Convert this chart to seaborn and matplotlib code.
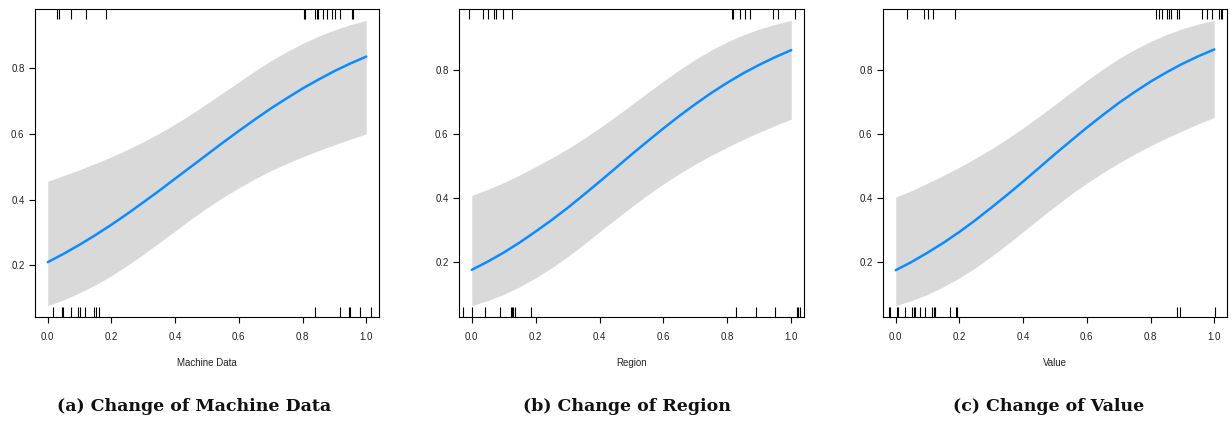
import matplotlib
matplotlib.use("Agg")
import matplotlib.pyplot as plt
import seaborn as sns
import pandas as pd

# ---------------- data ----------------
x_grid = [0.00, 0.05, 0.10, 0.15, 0.20, 0.25, 0.30, 0.35, 0.40, 0.45, 0.50,
          0.55, 0.60, 0.65, 0.70, 0.75, 0.80, 0.85, 0.90, 0.95, 1.00]

a_fit = [0.210, 0.2355, 0.263, 0.2926, 0.324, 0.3571, 0.392, 0.4272, 0.464, 0.5004, 0.537,
         0.5736, 0.609, 0.6436, 0.677, 0.708, 0.738, 0.7651, 0.791, 0.814, 0.835]
a_lo = [0.078, 0.0955, 0.117, 0.1411, 0.169, 0.2001, 0.234, 0.2692, 0.305, 0.341, 0.375,
        0.407, 0.436, 0.4631, 0.488, 0.5097, 0.530, 0.5492, 0.567, 0.5838, 0.600]
a_hi = [0.456, 0.4734, 0.491, 0.5102, 0.530, 0.5523, 0.576, 0.6016, 0.630, 0.6597, 0.692,
        0.725, 0.758, 0.791, 0.822, 0.8498, 0.875, 0.897, 0.916, 0.9317, 0.945]

b_fit = [0.175, 0.2007, 0.229, 0.2606, 0.295, 0.3308, 0.369, 0.4096, 0.451, 0.4933, 0.536,
         0.5773, 0.618, 0.6571, 0.694, 0.729, 0.761, 0.7905, 0.817, 0.8411, 0.863]
b_lo = [0.063, 0.0786, 0.098, 0.1219, 0.150, 0.1811, 0.216, 0.2541, 0.294, 0.3334, 0.372,
        0.4094, 0.444, 0.4763, 0.506, 0.5337, 0.559, 0.5833, 0.606, 0.6271, 0.647]
b_hi = [0.408, 0.427, 0.448, 0.4721, 0.498, 0.525, 0.554, 0.5855, 0.619, 0.6545, 0.692,
        0.7291, 0.766, 0.8015, 0.834, 0.8633, 0.889, 0.9105, 0.929, 0.9434, 0.956]

c_fit = [0.173, 0.1989, 0.228, 0.259, 0.293, 0.3298, 0.369, 0.4093, 0.451, 0.4938, 0.537,
         0.5787, 0.620, 0.6592, 0.697, 0.7315, 0.764, 0.7932, 0.820, 0.8437, 0.865]
c_lo = [0.062, 0.0777, 0.097, 0.121, 0.149, 0.1804, 0.216, 0.2539, 0.294, 0.3339, 0.373,
        0.4108, 0.446, 0.4786, 0.509, 0.5369, 0.563, 0.5872, 0.610, 0.6317, 0.652]
c_hi = [0.402, 0.4223, 0.446, 0.470, 0.496, 0.5238, 0.553, 0.5852, 0.619, 0.655, 0.692,
        0.7302, 0.768, 0.803, 0.836, 0.8648, 0.890, 0.9118, 0.930, 0.9445, 0.956]

a_top = [0.030, 0.034, 0.074, 0.119, 0.184, 0.803, 0.809, 0.840, 0.845, 0.850,
         0.864, 0.877, 0.891, 0.903, 0.918, 0.954, 0.959]
a_bot = [0.018, 0.044, 0.049, 0.073, 0.095, 0.100, 0.116, 0.146, 0.152, 0.160,
         0.838, 0.918, 0.945, 0.949, 0.980, 1.015]
b_top = [-0.010, 0.036, 0.052, 0.068, 0.075, 0.099, 0.127, 0.814, 0.819, 0.840,
         0.855, 0.871, 0.944, 0.960, 1.012]
b_bot = [-0.029, 0.002, 0.042, 0.089, 0.122, 0.125, 0.130, 0.136, 0.185, 0.827,
         0.889, 0.949, 1.017, 1.022, 1.028]
c_top = [0.035, 0.089, 0.101, 0.117, 0.187, 0.816, 0.827, 0.837, 0.853, 0.858,
         0.863, 0.882, 0.889, 0.962, 0.978, 0.994, 1.015, 1.020, 1.025]
c_bot = [-0.022, -0.017, 0.004, 0.007, 0.028, 0.051, 0.056, 0.062, 0.075, 0.093,
         0.114, 0.119, 0.122, 0.169, 0.190, 0.193, 0.884, 0.893, 1.001]

x_labels = ["Machine Data", "Region", "Value"]
captions = ["(a) Change of Machine Data", "(b) Change of Region", "(c) Change of Value"]
x_ticks = [0.0, 0.2, 0.4, 0.6, 0.8, 1.0]
y_ticks = [0.2, 0.4, 0.6, 0.8]

# ---------------- style ----------------
sns.set_style("white")
plt.rcParams["font.family"] = ["Liberation Sans", "DejaVu Sans"]

W, H = 1231, 422
fig = plt.figure(figsize=(W / 100, H / 100), dpi=100)

# axes boxes in pixels: (left, right)
boxes = [(35, 379), (459, 804), (883, 1227)]
top_px, bot_px = 9, 317
cap_x = [194, 627, 1049]

panels = [
    (a_fit, a_lo, a_hi, a_top, a_bot),
    (b_fit, b_lo, b_hi, b_top, b_bot),
    (c_fit, c_lo, c_hi, c_top, c_bot),
]

LINE = "#0a8cff"
BAND = "#d9d9d9"

for i, (fit, lo, hi, top, bot) in enumerate(panels):
    l, r = boxes[i]
    ax = fig.add_axes([l / W, 1 - bot_px / H, (r - l) / W, (bot_px - top_px) / H])
    df = pd.DataFrame({"x": x_grid, "fit": fit, "lo": lo, "hi": hi})
    ax.fill_between(df["x"], df["lo"], df["hi"], color=BAND, linewidth=0)
    sns.lineplot(data=df, x="x", y="fit", ax=ax, color=LINE, linewidth=1.8)
    sns.rugplot(x=bot, ax=ax, height=0.032, color="black", linewidth=0.8,
                expand_margins=False)
    ax.vlines(top, 1 - 0.032, 1, transform=ax.get_xaxis_transform(),
              color="black", linewidth=0.8)

    ymin, ymax = min(lo), max(hi)
    pad = 0.04 * (ymax - ymin)
    ax.set_ylim(ymin - pad, ymax + pad)
    ax.set_xlim(-0.04, 1.04)

    ax.set_xticks(x_ticks)
    ax.set_xticklabels([f"{t:.1f}" for t in x_ticks])
    ax.set_yticks(y_ticks)
    ax.set_yticklabels([f"{t:.1f}" for t in y_ticks])
    ax.tick_params(axis="x", length=4.5, width=0.8, pad=6.0, labelsize=7,
                   colors="black", labelcolor="#222222", bottom=True)
    ax.tick_params(axis="y", length=4.5, width=0.8, pad=3.0, labelsize=7,
                   colors="black", labelcolor="#222222", left=True)
    for s in ax.spines.values():
        s.set_visible(True)
        s.set_color("black")
        s.set_linewidth(0.8)
    ax.set_xlabel(x_labels[i], fontsize=7, color="#222222", labelpad=12)
    ax.set_ylabel("")

    fig.text(cap_x[i] / W, 1 - 411 / H, captions[i], ha="center", va="baseline",
             fontsize=12.5, fontweight="bold", family=["DejaVu Serif"],
             color="#111111")

fig.savefig("out.png", dpi=100)
